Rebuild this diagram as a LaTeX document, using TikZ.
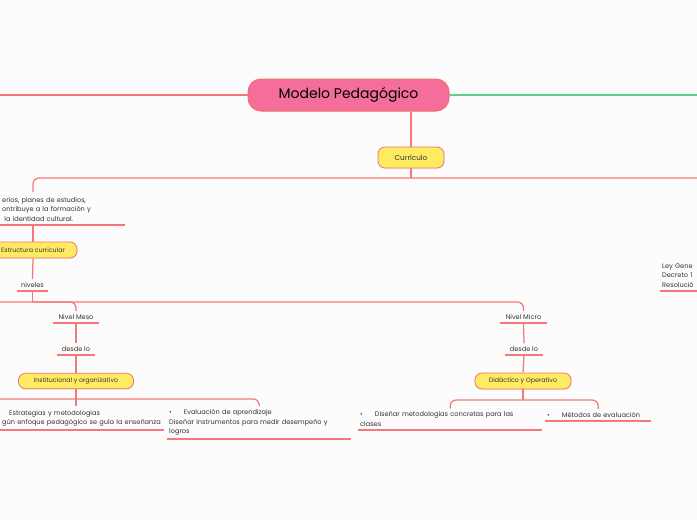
\documentclass[tikz,border=0pt]{standalone}
\usepackage{fontspec}
\setmainfont{Poppins}
\usetikzlibrary{shadows}
\definecolor{linea}{HTML}{F77878}
\definecolor{borde}{HTML}{F26F6A}
\definecolor{rosa}{HTML}{F46D9B}
\definecolor{amarillo}{HTML}{FFEB62}
\definecolor{verde}{HTML}{5DD08E}
\definecolor{fondo}{HTML}{FCFCFC}
\definecolor{texto}{HTML}{333333}
\begin{document}
\begin{tikzpicture}[x=1pt,y=-1pt,
        rama/.style={draw=linea,line width=1.25pt,rounded corners=6pt},
        tema/.style={draw=borde,fill=amarillo,line width=0.8pt,rounded corners=7pt,inner sep=0pt,
            text=texto,font=\fontsize{6.3}{8}\selectfont,
            drop shadow={opacity=0.12,shadow xshift=0.6pt,shadow yshift=-1pt}},
        nota/.style={inner xsep=2pt,inner ysep=3.2pt,text=texto,align=left,font=\fontsize{6.6}{9.6}\selectfont}]
    \useasboundingbox (0,0) rectangle (697,520);
    \fill[fondo] (0,0) rectangle (697,520);
    \clip (0,0) rectangle (697,520);

    \node[draw=borde,fill=rosa,line width=1pt,rounded corners=13pt,minimum width=201,minimum height=32,
        font=\fontsize{14}{16}\selectfont] (modelo) at (348.5,95) {Modelo Pedagógico};
    \node[tema,minimum width=66,minimum height=21,font=\fontsize{7.2}{8}\selectfont] (curr) at (411,157.5) {Currículo};

    \coordinate (izq) at (0,95);
    \coordinate (der) at (697,95);
    \coordinate (currj) at (411,178);
    \coordinate (ejeder) at (697,178);
    \coordinate (critin) at (33,192);

    % rama izquierda: estructura y niveles
    \node[nota,anchor=south west,text width=121] (crit) at (0,225)
        {erios, planes de estudios,\\ontribuye a la formación y\\\ la identidad cultural.};
    \node[tema,minimum width=88,minimum height=16] (estr) at (33,250) {Estructura curricular};
    \node[nota,anchor=south,minimum width=31] (niveles) at (32.5,291) {niveles};
    \coordinate (nivj) at (32.5,302);
    \coordinate (izq2) at (0,302);

    \node[nota,anchor=south,minimum width=46] (meso) at (76,323) {Nivel Meso};
    \node[nota,anchor=south,minimum width=38] (desde1) at (76,355) {desde lo};
    \node[tema,minimum width=115,minimum height=15.5] (inst) at (76,381) {Institucional y organizativo};
    \coordinate (izq3) at (0,399);
    \coordinate (estrin) at (76,406);
    \node[nota,anchor=south west,text width=160] (estrat) at (0,430)
        {\hspace*{7pt}Estrategias y metodologias\\gún enfoque pedagógico se guía la enseñanza};
    \node[nota,anchor=south west,text width=180] (eval) at (167,439)
        {•\hspace{12pt}Evaluación de aprendizaje\\Diseñar instrumentos para medir desempeño y\\logros};

    \node[nota,anchor=south,minimum width=47] (micro) at (523.5,323) {Nivel Micro};
    \node[nota,anchor=south,minimum width=38] (desde2) at (524,355) {desde lo};
    \node[tema,minimum width=96,minimum height=16] (dida) at (523,381) {Didáctico y Operativo};
    \coordinate (didj) at (523,400);
    \node[nota,anchor=south west,text width=180] (disenar) at (358,430)
        {•\hspace{12pt}Diseñar metodologías concretas para las\\clases};
    \node[nota,anchor=south west,text width=102] (metodos) at (545,421)
        {•\hspace{12pt}Métodos de evaluación};

    \node[nota,anchor=south west,text width=40] (ley) at (660,291)
        {Ley Gene\\Decreto 1\\Resolució};

    % conectores
    \path[draw=linea,line width=1.3pt] (modelo.west) -- (izq);
    \path[draw=verde,line width=1.3pt] (modelo.east) -- (der);
    \path[rama] (curr.north |- modelo.south) -- (curr.north);
    \path[rama] (curr.south) -- (currj);
    \path[rama] (ejeder) -| (critin);
    \path[rama] (crit.south west) -- (crit.south east);
    \path[rama] (estr.north |- crit.south) -- (estr.north);
    \path[rama] (estr.south) -- (niveles.north);
    \path[rama] (niveles.south west) -- (niveles.south east);
    \path[rama] (niveles.south) -- (nivj);
    \path[rama] (izq2) -| (micro.north);
    \path[rama] (nivj) -| (meso.north);

    \path[rama] (meso.south west) -- (meso.south east);
    \path[rama] (meso.south) -- (desde1.north);
    \path[rama] (desde1.south west) -- (desde1.south east);
    \path[rama] (desde1.south) -- (inst.north);
    \path[rama] (inst.south) -- (estrin);
    \path[rama] (izq3) -| (eval.north);
    \path[rama] (estrat.south west) -- (estrat.south east);
    \path[rama] (eval.south west) -- (eval.south east);

    \path[rama] (micro.south west) -- (micro.south east);
    \path[rama] (micro.south) -- (desde2.north);
    \path[rama] (desde2.south west) -- (desde2.south east);
    \path[rama] (desde2.south) -- (dida.north);
    \path[rama] (dida.south) -- (didj);
    \path[rama] (didj) -| (disenar.north);
    \path[rama] (didj) -| (metodos.north);
    \path[rama] (disenar.south west) -- (disenar.south east);
    \path[rama] (metodos.south west) -- (metodos.south east);
    \path[rama] (ley.south west) -- ++(40,0);
\end{tikzpicture}
\end{document}
